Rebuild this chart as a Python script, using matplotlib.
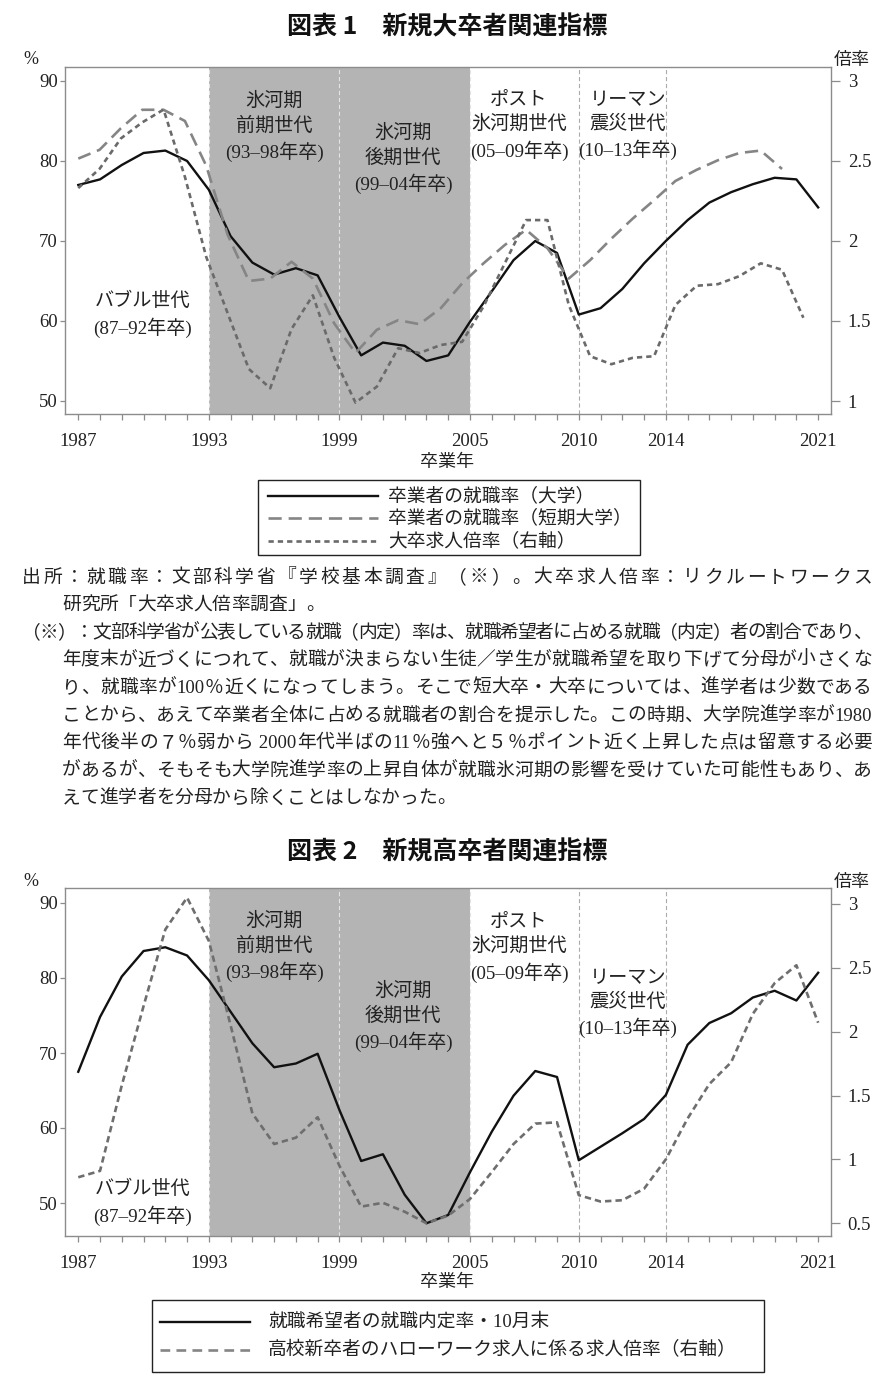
import numpy as np
import matplotlib
matplotlib.use('Agg')
import matplotlib.pyplot as plt
from matplotlib.lines import Line2D
from matplotlib.patches import Rectangle

plt.rcParams['font.family'] = ['Liberation Serif', 'Noto Sans CJK JP']
plt.rcParams['lines.scale_dashes'] = False

# ---- data ----
years = np.arange(1987, 2022)
label_years = [1987, 1993, 1999, 2005, 2010, 2014, 2021]

# 図表1
univ_rate = [77.0, 77.7, 79.5, 81.0, 81.3, 80.0, 76.4, 70.6, 67.3, 65.8,
             66.6, 65.7, 60.5, 55.7, 57.3, 56.9, 55.0, 55.7, 59.9, 63.7,
             67.6, 70.0, 68.5, 60.8, 61.6, 64.0, 67.2, 70.0, 72.6, 74.8,
             76.1, 77.1, 77.9, 77.7, 74.2]
junior_rate = [80.3, 81.4, 84.1, 86.4, 86.4, 85.0, 79.4, 70.8, 65.0, 65.3,
               67.4, 65.3, 59.7, 56.0, 58.9, 60.1, 59.6, 61.6, 64.7, 67.2,
               69.5, 71.4, 69.1, 65.3, 67.6, 70.3, 72.8, 75.1, 77.5, 78.9,
               80.1, 81.0, 81.3, 79.0]
univ_offer = [2.33, 2.45, 2.64, 2.74, 2.82, 2.40, 1.90, 1.55, 1.20, 1.08,
              1.45, 1.66, 1.27, 0.99, 1.09, 1.33, 1.30, 1.35, 1.37, 1.59,
              1.86, 2.13, 2.13, 1.60, 1.28, 1.23, 1.27, 1.28, 1.60, 1.72,
              1.73, 1.78, 1.86, 1.82, 1.52]

# 図表2
hs_rate = [67.5, 74.8, 80.2, 83.6, 84.1, 83.0, 79.7, 75.5, 71.3, 68.1,
           68.6, 69.9, 62.4, 55.6, 56.5, 51.1, 47.3, 48.4, 54.1, 59.5,
           64.3, 67.6, 66.8, 55.7, 57.5, 59.3, 61.2, 64.4, 71.1, 74.0,
           75.3, 77.4, 78.3, 77.0, 80.7]
hs_offer = [0.86, 0.91, 1.58, 2.20, 2.80, 3.05, 2.71, 2.05, 1.36, 1.12,
            1.17, 1.33, 0.95, 0.63, 0.66, 0.59, 0.50, 0.56, 0.69, 0.90,
            1.12, 1.28, 1.29, 0.72, 0.67, 0.68, 0.77, 1.00, 1.32, 1.59,
            1.76, 2.14, 2.38, 2.52, 2.07]

eras = [
    (143, 'バブル世代\n(87–92年卒)'),
    (274, '氷河期\n前期世代\n(93–98年卒)'),
    (403, '氷河期\n後期世代\n(99–04年卒)'),
    (519, 'ポスト\n氷河期世代\n(05–09年卒)'),
    (628, 'リーマン\n震災世代\n(10–13年卒)'),
]

notes = [
    (22, '出所：就職率：文部科学省『学校基本調査』（※）。大卒求人倍率：リクルートワークス', True),
    (62, '研究所「大卒求人倍率調査」。', False),
    (22, '（※）：文部科学省が公表している就職（内定）率は、就職希望者に占める就職（内定）者の割合であり、', True),
    (62, '年度末が近づくにつれて、就職が決まらない生徒／学生が就職希望を取り下げて分母が小さくな', True),
    (62, 'り、就職率が100％近くになってしまう。そこで短大卒・大卒については、進学者は少数である', True),
    (62, 'ことから、あえて卒業者全体に占める就職者の割合を提示した。この時期、大学院進学率が1980', True),
    (62, '年代後半の７％弱から 2000年代半ばの11％強へと５％ポイント近く上昇した点は留意する必要', True),
    (62, 'があるが、そもそも大学院進学率の上昇自体が就職氷河期の影響を受けていた可能性もあり、あ', True),
    (62, 'えて進学者を分母から除くことはしなかった。', False),
]

# ---- layout (pixels) ----
W, H = 894, 1384
fig = plt.figure(figsize=(W / 100, H / 100), dpi=100)

SPINE = '#8c8c8c'
TXT = '#222222'
XLIM = (1986.39, 2021.59)
BLACK = dict(color='#111111', lw=1.7)
LONG = dict(color='#858585', lw=1.9, dashes=(9.5, 5))
SHORT = dict(color='#6a6a6a', lw=1.9, dashes=(3.8, 2.9))


def fx(px):
    return px / W


def fy(py):
    return 1 - py / H


def rect(l, t, r, b):
    return [l / W, 1 - b / H, (r - l) / W, (b - t) / H]


def base_axes(r, ylim, yticks, ylabels):
    ax = fig.add_axes(r)
    ax.set_xlim(XLIM)
    ax.set_ylim(ylim)
    ax.set_xticks(years)
    ax.set_xticklabels([str(y) if y in label_years else '' for y in years])
    ax.set_yticks(yticks)
    ax.set_yticklabels(ylabels)
    for s in ax.spines.values():
        s.set_color(SPINE)
        s.set_linewidth(1.0)
    ax.tick_params(axis='x', direction='out', length=4.5, width=0.9,
                   color=SPINE, pad=9, labelsize=13.5, labelcolor=TXT)
    ax.tick_params(axis='y', direction='out', length=3.6, width=0.9,
                   color=SPINE, pad=1.5, labelsize=13.5, labelcolor=TXT)
    ax.axvspan(1993, 2005, color='#b4b4b4', lw=0, zorder=0)
    for y in [1993, 1999, 2005]:
        ax.axvline(y, color='#e4e4e4', lw=0.8, ls=(0, (3, 2)), zorder=1)
    for y in [2010, 2014]:
        ax.axvline(y, color='#ababab', lw=0.8, ls=(0, (3, 2)), zorder=1)
    return ax


def right_ticks(axr, ylim, yticks, ylabels):
    axr.set_ylim(ylim)
    axr.set_yticks(yticks)
    axr.set_yticklabels(ylabels)
    for s in axr.spines.values():
        s.set_visible(False)
    axr.tick_params(axis='y', direction='out', length=6.5, width=0.9,
                    color=SPINE, pad=5.5, labelsize=13.5, labelcolor=TXT)


def era_labels(ys):
    for (x, s), y in zip(eras, ys):
        fig.text(fx(x), fy(y), s, ha='center', va='top', fontsize=13.8,
                 color=TXT, linespacing=1.42, multialignment='center')


def legend_box(l, t, r, b, rows, h0, h1, tx):
    fig.add_artist(Rectangle((fx(l), fy(b)), (r - l) / W, (b - t) / H,
                             transform=fig.transFigure, fill=False,
                             ec='#222222', lw=1.0))
    for y, style, lab in rows:
        fig.add_artist(Line2D([fx(h0), fx(h1)], [fy(y), fy(y)],
                              transform=fig.transFigure, **style))
        fig.text(fx(tx), fy(y), lab, ha='left', va='center', fontsize=13.5,
                 color=TXT)


# ===== 図表1 =====
fig.text(0.5, fy(27), '図表 1　新規大卒者関連指標', ha='center', va='center',
         fontsize=18, fontweight='bold', family=['Noto Sans CJK JP'],
         color='#111111')
fig.text(fx(23), fy(60), '%', ha='left', va='center', fontsize=13, color=TXT)
fig.text(fx(834), fy(60), '倍率', ha='left', va='center', fontsize=13, color=TXT)

r1 = rect(65, 66.5, 831, 414.5)
ylim1 = (48.31, 91.81)
ax1 = base_axes(r1, ylim1, [50, 60, 70, 80, 90], ['50', '60', '70', '80', '90'])
ax1.plot(years, univ_rate, zorder=5, **BLACK)

# the two grey series of the source sit on a secondary category axis that is
# about 2% narrower, so they get their own x scale
k = 0.98
gray_xlim = (1987 + (XLIM[0] - 1987) / k, 1987 + (XLIM[1] - 1987) / k)
axg = fig.add_axes(r1, frameon=False, label='grey')
axg.set_xlim(gray_xlim)
axg.set_ylim(ylim1)
axg.set_xticks([])
axg.set_yticks([])
axg.plot(years[:len(junior_rate)], junior_rate, **LONG)
axgr = axg.twinx()
right_ticks(axgr, (0.916, 3.089), [1, 1.5, 2, 2.5, 3], ['1', '1.5', '2', '2.5', '3'])
axgr.plot(years, univ_offer, **SHORT)

era_labels([292, 92, 124, 92, 92])
fig.text(0.5, fy(462), '卒業年', ha='center', va='center', fontsize=13, color=TXT)

legend_box(258, 480, 640, 555,
           [(496, BLACK, '卒業者の就職率（大学）'),
            (518.5, LONG, '卒業者の就職率（短期大学）'),
            (541, SHORT, '大卒求人倍率（右軸）')],
           268, 378, 388)

# ---- notes ----
renderer = fig.canvas.get_renderer()
EM = 13.5 * 100 / 72


def tokens_of(s):
    out, buf = [], ''
    for ch in s:
        if ord(ch) < 128:
            buf += ch
        else:
            if buf:
                out.append(buf)
                buf = ''
            out.append(ch)
    if buf:
        out.append(buf)
    return out


def note_line(x0, y, s, justify, x1=872):
    toks = tokens_of(s)
    texts, widths = [], []
    for t in toks:
        tx = fig.text(0, fy(y), t, ha='left', va='center', fontsize=13.5, color=TXT)
        texts.append(tx)
        if ord(t[0]) < 128:
            widths.append(tx.get_window_extent(renderer).width)
        else:
            widths.append(EM)
    gap = (x1 - x0 - sum(widths)) / (len(toks) - 1) if justify else 0
    x = x0
    for tx, w in zip(texts, widths):
        tx.set_x(fx(x))
        x += w + gap


for i, (x0, s, j) in enumerate(notes):
    note_line(x0, 578 + i * 27.6, s, j)

# ===== 図表2 =====
fig.text(0.5, fy(852), '図表 2　新規高卒者関連指標', ha='center', va='center',
         fontsize=18, fontweight='bold', family=['Noto Sans CJK JP'],
         color='#111111')
fig.text(fx(23), fy(882), '%', ha='left', va='center', fontsize=13, color=TXT)
fig.text(fx(834), fy(882), '倍率', ha='left', va='center', fontsize=13, color=TXT)

r2 = rect(65, 888, 831, 1236)
ax2 = base_axes(r2, (45.6, 92.0), [50, 60, 70, 80, 90], ['50', '60', '70', '80', '90'])
ax2.plot(years, hs_rate, zorder=5, **BLACK)
ax2r = ax2.twinx()
right_ticks(ax2r, (0.40, 3.125), [0.5, 1, 1.5, 2, 2.5, 3],
            ['0.5', '1', '1.5', '2', '2.5', '3'])
HS = dict(color='#6e6e6e', lw=1.9, dashes=(4.6, 2.9))
ax2r.plot(years, hs_offer, **HS)

era_labels([1180, 912, 982, 914, 970])
fig.text(0.5, fy(1283), '卒業年', ha='center', va='center', fontsize=13, color=TXT)

legend_box(152, 1300, 764, 1372,
           [(1322, BLACK, '就職希望者の就職内定率・10月末'),
            (1350, dict(color='#858585', lw=1.9, dashes=(7, 4.5)),
             '高校新卒者のハローワーク求人に係る求人倍率（右軸）')],
           160, 250, 268)

fig.savefig('out.png', dpi=100)
